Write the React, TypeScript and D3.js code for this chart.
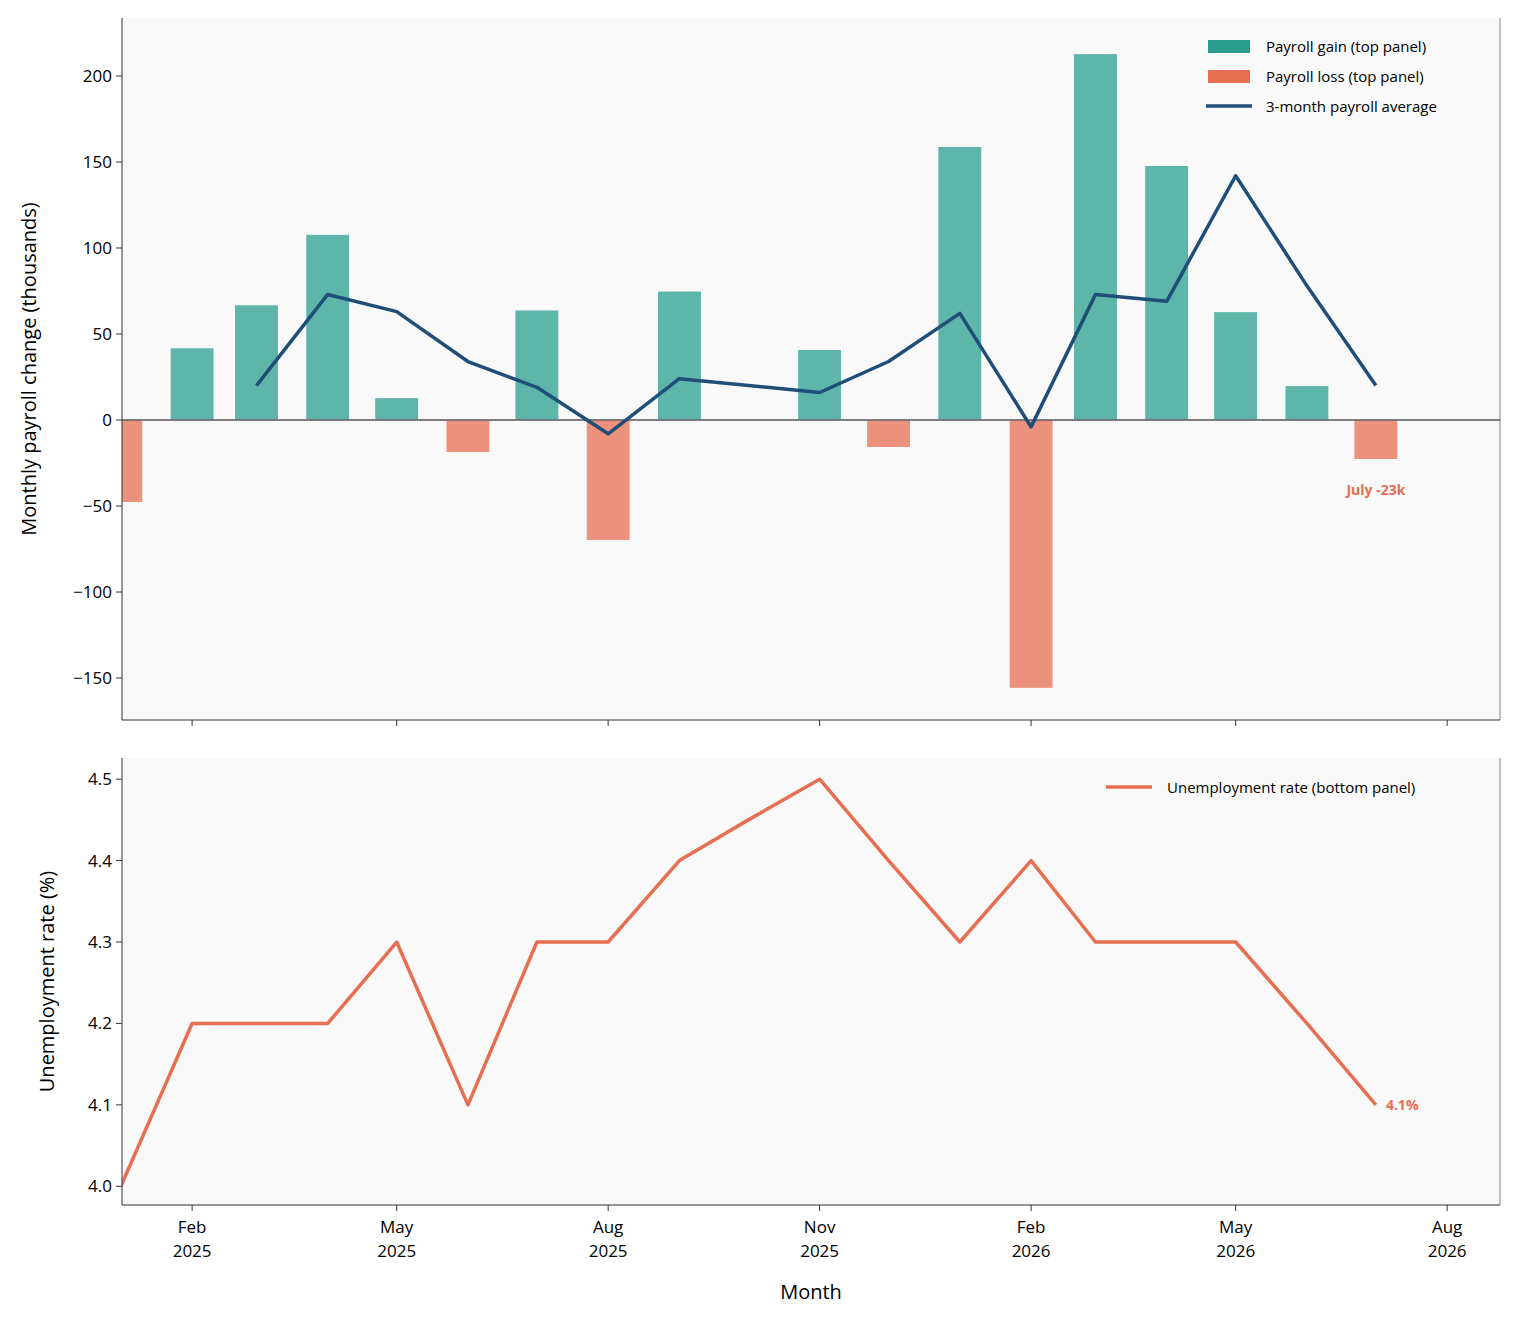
import React from "react";
import * as d3 from "d3";

const months = [
  "2025-01", "2025-02", "2025-03", "2025-04", "2025-05", "2025-06", "2025-07",
  "2025-08", "2025-09", "2025-10", "2025-11", "2025-12", "2026-01", "2026-02",
  "2026-03", "2026-04", "2026-05", "2026-06", "2026-07",
];
// null = no report that month
const payroll: (number | null)[] = [
  -48, 42, 67, 108, 13, -19, 64, -70, 75, null, 41, -16, 159, -156, 213, 148, 63, 20, -23,
];
const avg3: (number | null)[] = [
  null, null, 20, 73, 63, 34, 19, -8, 24, null, 16, 34, 62, -4, 73, 69, 142, 78, 20,
];
const unemployment = [
  4.0, 4.2, 4.2, 4.2, 4.3, 4.1, 4.3, 4.3, 4.4, 4.45, 4.5, 4.4, 4.3, 4.4, 4.3, 4.3, 4.3, 4.2, 4.1,
];
const tickMonths = ["2025-02", "2025-05", "2025-08", "2025-11", "2026-02", "2026-05", "2026-08"];
const payrollTicks = [-150, -100, -50, 0, 50, 100, 150, 200];
const unempTicks = [4.0, 4.1, 4.2, 4.3, 4.4, 4.5];

const GAIN = "#2a9d8f";
const LOSS = "#e76f51";
const AVG = "#1f4e79";
const FONT = "'Open Sans', sans-serif";

const parse = d3.timeParse("%Y-%m");

export default function App() {
  const W = 1518, H = 1324;
  const left = 122, right = 1500;
  const top1 = 18, bot1 = 720, top2 = 758, bot2 = 1205;

  const x = d3.scaleTime()
    .domain([new Date(2025, 0, 1, 12), new Date(2026, 7, 24)])
    .range([left, right]);
  const y1 = d3.scaleLinear().domain([-174.4, 233.7]).range([bot1, top1]);
  const y2 = d3.scaleLinear().domain([3.977, 4.526]).range([bot2, top2]);
  const dates = months.map((m) => parse(m)!);
  const barW = 44;

  const avgLine = d3.line<[Date, number]>().x((d) => x(d[0])).y((d) => y1(d[1]));
  const avgPts = dates
    .map((d, i) => [d, avg3[i]] as [Date, number | null])
    .filter((p) => p[1] !== null) as [Date, number][];
  const uLine = d3.line<number>().x((_, i) => x(dates[i])).y((d) => y2(d));

  const spine = "#333";
  const tickFmt = d3.timeFormat("%b");
  const yrFmt = d3.timeFormat("%Y");

  return (
    <svg width={W} height={H} style={{ fontFamily: FONT, display: "block", margin: -8 }}>
      <defs>
        <clipPath id="c1"><rect x={left} y={top1} width={right - left} height={bot1 - top1} /></clipPath>
        <clipPath id="c2"><rect x={left} y={top2} width={right - left} height={bot2 - top2} /></clipPath>
      </defs>
      <rect width={W} height={H} fill="#fff" />
      <rect x={left} y={top1} width={right - left} height={bot1 - top1} fill="#f9f9f9" />
      <rect x={left} y={top2} width={right - left} height={bot2 - top2} fill="#f9f9f9" />

      {/* top panel */}
      <g clipPath="url(#c1)">
        {payroll.map((v, i) =>
          v === null ? null : (
            <rect key={i} x={x(dates[i]) - barW / 2} width={barW}
              y={y1(Math.max(0, v))} height={Math.abs(y1(v) - y1(0))}
              fill={v >= 0 ? GAIN : LOSS} fillOpacity={0.75} stroke="#fff" strokeWidth={1} />
          ))}
        <line x1={left} x2={right} y1={y1(0)} y2={y1(0)} stroke="#555" strokeWidth={1.3} />
        <path d={avgLine(avgPts)!} fill="none" stroke={AVG} strokeWidth={3.5} strokeLinejoin="round" />
      </g>
      <text x={x(dates[18])} y={y1(-23) + 35} textAnchor="middle" fontSize={14} fontWeight="bold" fill={LOSS}>July -23k</text>
      <line x1={left} x2={left} y1={top1} y2={bot1} stroke={spine} />
      <line x1={right} x2={right} y1={top1} y2={bot1} stroke={spine} strokeOpacity={0.6} />
      <line x1={left} x2={right} y1={bot1} y2={bot1} stroke={spine} />
      {payrollTicks.map((t) => (
        <g key={t} transform={`translate(${left},${y1(t)})`}>
          <line x1={-6} x2={0} stroke={spine} />
          <text x={-10} dy="0.35em" textAnchor="end" fontSize={17}>{t < 0 ? `\u2212${-t}` : t}</text>
        </g>
      ))}
      {tickMonths.map((m) => (
        <line key={m} x1={x(parse(m)!)} x2={x(parse(m)!)} y1={bot1} y2={bot1 + 6} stroke={spine} />
      ))}
      <text transform={`translate(36,${(top1 + bot1) / 2}) rotate(-90)`} textAnchor="middle" fontSize={20}>
        Monthly payroll change (thousands)
      </text>
      <g fontSize={15}>
        <rect x={1208} y={40} width={42} height={13} fill={GAIN} />
        <text x={1266} y={52}>Payroll gain (top panel)</text>
        <rect x={1208} y={70} width={42} height={13} fill={LOSS} />
        <text x={1266} y={82}>Payroll loss (top panel)</text>
        <line x1={1206} x2={1252} y1={106} y2={106} stroke={AVG} strokeWidth={3.5} />
        <text x={1266} y={112}>3-month payroll average</text>
      </g>

      {/* bottom panel */}
      <g clipPath="url(#c2)">
        <path d={uLine(unemployment)!} fill="none" stroke={LOSS} strokeWidth={3.5} strokeLinejoin="round" />
      </g>
      <text x={x(dates[18]) + 10} y={y2(4.1)} dy="0.35em" fontSize={14} fontWeight="bold" fill={LOSS}>4.1%</text>
      <line x1={left} x2={left} y1={top2} y2={bot2} stroke={spine} />
      <line x1={right} x2={right} y1={top2} y2={bot2} stroke={spine} strokeOpacity={0.6} />
      <line x1={left} x2={right} y1={bot2} y2={bot2} stroke={spine} />
      {unempTicks.map((t) => (
        <g key={t} transform={`translate(${left},${y2(t)})`}>
          <line x1={-6} x2={0} stroke={spine} />
          <text x={-10} dy="0.35em" textAnchor="end" fontSize={17}>{t.toFixed(1)}</text>
        </g>
      ))}
      {tickMonths.map((m) => {
        const d = parse(m)!;
        return (
          <g key={m} transform={`translate(${x(d)},${bot2})`}>
            <line y2={6} stroke={spine} />
            <text y={28} textAnchor="middle" fontSize={17}>{tickFmt(d)}</text>
            <text y={52} textAnchor="middle" fontSize={17}>{yrFmt(d)}</text>
          </g>
        );
      })}
      <text transform={`translate(54,${(top2 + bot2) / 2}) rotate(-90)`} textAnchor="middle" fontSize={20}>
        Unemployment rate (%)
      </text>
      <text x={(left + right) / 2} y={1299} textAnchor="middle" fontSize={20}>Month</text>
      <g fontSize={15}>
        <line x1={1106} x2={1152} y1={787} y2={787} stroke={LOSS} strokeWidth={3.5} />
        <text x={1167} y={793}>Unemployment rate (bottom panel)</text>
      </g>
    </svg>
  );
}
